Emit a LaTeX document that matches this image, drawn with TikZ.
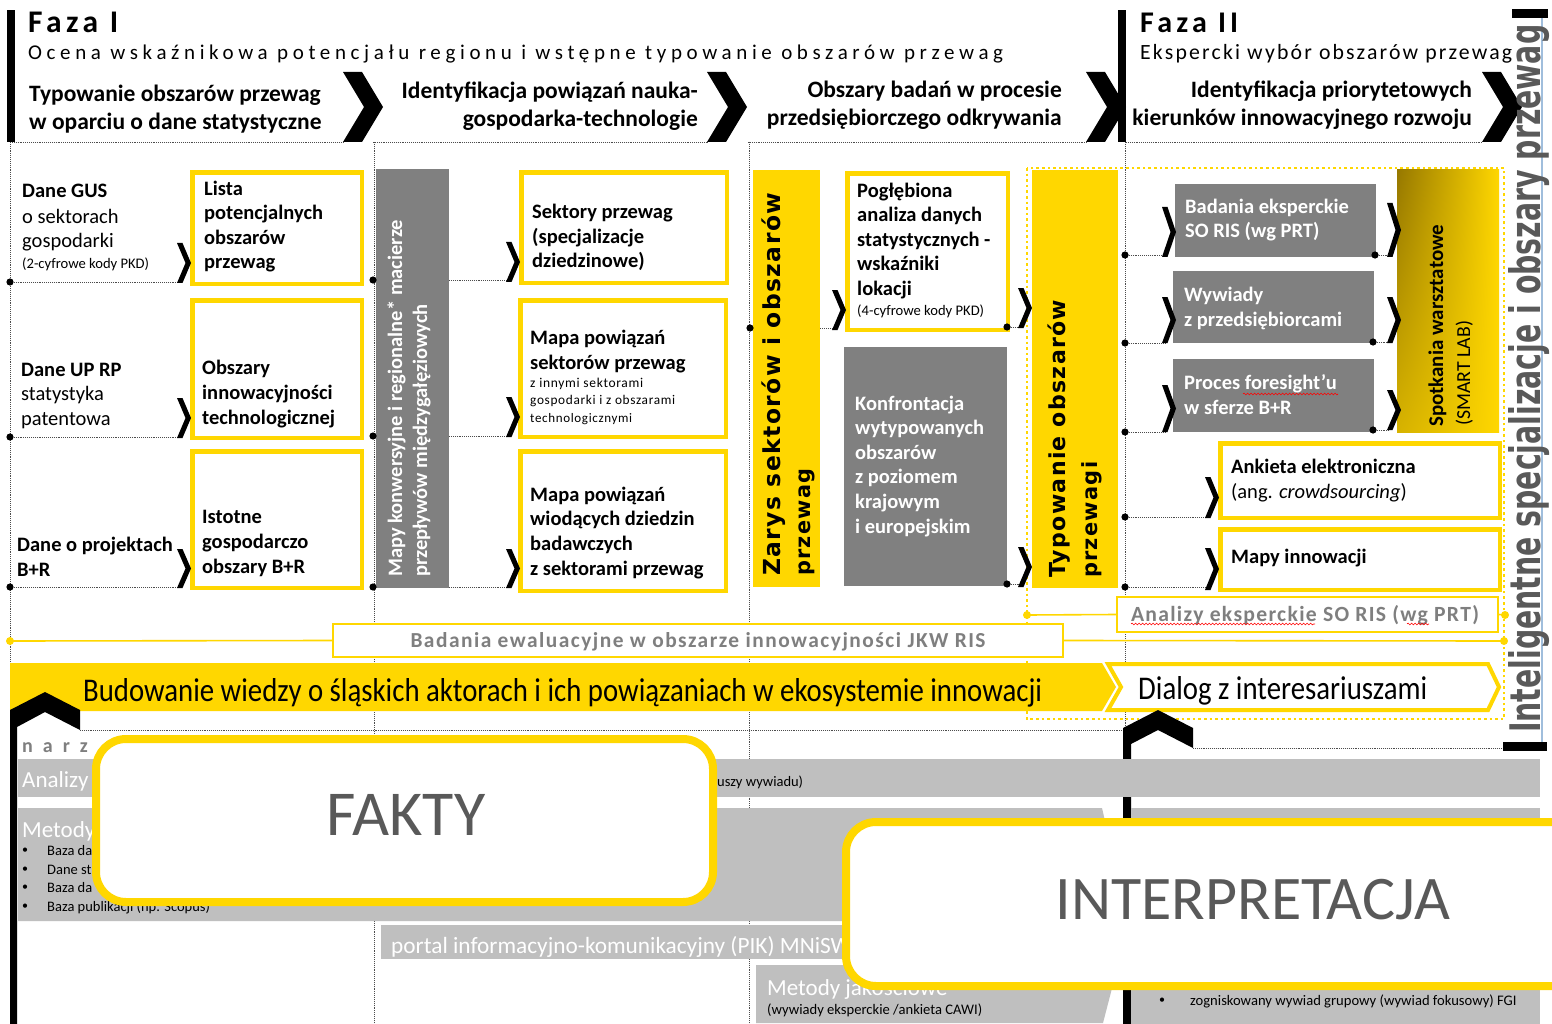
\documentclass[tikz,border=0pt]{standalone}
\usepackage{fontspec}
\setmainfont{Carlito}
\newfontfamily\dvs{DejaVu Sans}
\usepackage{graphicx}
\usetikzlibrary{decorations.pathmorphing,shadings}
\definecolor{ylw}{RGB}{255,215,0}
\definecolor{boxgray}{RGB}{128,128,128}
\definecolor{bandgray}{RGB}{191,191,191}
\definecolor{txtgray}{RGB}{127,127,127}
\definecolor{dgr}{RGB}{89,89,89}
\definecolor{goldA}{RGB}{150,120,0}
\definecolor{goldB}{RGB}{214,178,0}
\definecolor{linkblue}{RGB}{160,190,220}
\newcommand\LSp[1]{\addfontfeature{LetterSpace=#1}}
\newcommand\smchev[3]{\fill[black] (#1,#2) -- ({#1+5.5},#2) -- ({#1+14},{(#2+#3)/2}) -- ({#1+5.5},#3) -- (#1,#3) -- ({#1+8.5},{(#2+#3)/2}) -- cycle;}
\newcommand\bigchev[1]{\fill[black] (#1,72) -- ({#1+19},72) -- ({#1+40},107) -- ({#1+19},142) -- (#1,142) -- ({#1+21},107) -- cycle;}
\newcommand\ybx[5]{\node[ybox, minimum width={#4-#2-4.5}, minimum height={#5-#3-4.5}] (#1) at ({#2+2.25},{#3+2.25}) {};}
\newcommand\fbx[6]{\node[#6, minimum width={#4-#2}, minimum height={#5-#3}] (#1) at (#2,#3) {};}
\begin{document}
\begin{tikzpicture}[x=1pt,y=-1pt,
  dl/.style={densely dotted, line width=0.9pt, black!70},
  ydot/.style={ylw, line width=2.6pt, dash pattern=on 2.6pt off 3pt},
  ybox/.style={draw=ylw, line width=4.5pt, fill=white, inner sep=0, anchor=north west},
  gfill/.style={fill=boxgray, inner sep=0, anchor=north west},
  yfill/.style={fill=ylw, inner sep=0, anchor=north west},
  tb/.style={anchor=base west, align=left, inner sep=0, font=\fontsize{20.5}{24.6}\selectfont\bfseries},
  tr/.style={anchor=base west, align=left, inner sep=0, font=\fontsize{20.5}{24.6}\selectfont},
  ts/.style={anchor=base west, align=left, inner sep=0, font=\fontsize{14.6}{17.5}\selectfont},
  tsm/.style={anchor=base west, inner sep=0, font=\fontsize{14.5}{17}\selectfont},
  hd/.style={inner sep=0, font=\fontsize{23.5}{27.5}\selectfont\bfseries},
  rot/.style={rotate=90, anchor=base west, inner sep=0},
  squig/.style={red, line width=0.6pt, decorate, decoration={snake, amplitude=0.9pt, segment length=3.5pt}}
]
\useasboundingbox (0,0) rectangle (1552,1024);
\fill[white] (0,0) rectangle (1552,1024);

% ---------- grid of dotted lines ----------
\draw[dl] (10,142) -- (343,142);
\draw[dl] (373,142) -- (708,142);
\draw[dl] (748,142) -- (1088,142);
\draw[dl] (1126,142) -- (1483,142);
\draw[dl] (10,142) -- (10,663);
\draw[dl] (374,142) -- (374,1024);
\draw[dl] (749,142) -- (749,1024);
\draw[dl] (1125,142) -- (1125,730);

% row connectors
\coordinate (a1) at (10,282);  \coordinate (a1e) at (181,282);
\coordinate (a2) at (10,437);  \coordinate (a2e) at (180,437);
\coordinate (a3) at (10,587);  \coordinate (a3e) at (181,587);
\draw[dl] (a1) -- (a1e); \draw[dl] (a2) -- (a2e); \draw[dl] (a3) -- (a3e);
\coordinate (b1) at (373,280); \coordinate (b1e) at (510,280);
\coordinate (b2) at (373,436); \coordinate (b2e) at (510,436);
\coordinate (b3) at (373,587); \coordinate (b3e) at (510,587);
\draw[dl] (b1) -- (b1e); \draw[dl] (b2) -- (b2e); \draw[dl] (b3) -- (b3e);
\coordinate (c1) at (750,328); \coordinate (c1e) at (836,328);
\draw[dl] (c1) -- (c1e);
\coordinate (c2) at (1007,327); \coordinate (c2e) at (1021,327);
\coordinate (c3) at (1007,584); \coordinate (c3e) at (1021,584);
\draw[dl] (c2) -- (c2e); \draw[dl] (c3) -- (c3e);
\coordinate (d1) at (1125,255); \coordinate (d1e) at (1165,255);
\coordinate (d2) at (1125,343); \coordinate (d2e) at (1165,343);
\coordinate (d3) at (1125,432); \coordinate (d3e) at (1165,432);
\coordinate (d4) at (1125,517); \coordinate (d4e) at (1209,517);
\coordinate (d5) at (1125,587); \coordinate (d5e) at (1209,587);
\foreach \i in {1,...,5} {\draw[dl] (d\i) -- (d\i e);}
\coordinate (e1) at (1375,255); \coordinate (e1e) at (1389,255);
\coordinate (e2) at (1373,342); \coordinate (e2e) at (1389,342);
\coordinate (e3) at (1373,430); \coordinate (e3e) at (1389,430);
\foreach \i in {1,2,3} {\draw[dl] (e\i) -- (e\i e);}

% yellow dotted frame of phase II
\draw[ydot] (1027,168) rectangle (1504,719);

% ---------- boxes ----------
\ybx{lista}{188}{168}{362}{284}
\ybx{obsz}{188}{296}{362}{438}
\ybx{istot}{188}{447}{362}{588}
\fbx{mapy}{376}{169}{449}{588}{gfill}
\ybx{sekt}{517}{168}{727}{283}
\ybx{mapa1}{516}{296}{726}{437}
\ybx{mapa2}{516}{447}{726}{591}
\fbx{zarys}{753}{170}{820}{587}{yfill}
\ybx{poglb}{843}{169}{1008}{330}
\fbx{konfr}{844}{347}{1007}{586}{gfill}
\fbx{typow}{1032}{170}{1118}{588}{yfill}
\fbx{badan}{1175}{184}{1376}{257}{gfill}
\fbx{wywia}{1173}{271}{1374}{343}{gfill}
\fbx{fores}{1173}{359}{1374}{432}{gfill}
\shade[upper left=goldA, upper right=ylw, lower left=goldB, lower right=ylw] (1397,170) rectangle (1499,432);
\node[inner sep=0, minimum width=102, minimum height=262, anchor=north west] (smart) at (1397,170) {};
\ybx{ankie}{1216}{439}{1500}{518}
\ybx{mapin}{1216}{525}{1500}{590}

% ---------- dots ----------
\foreach \p in {a1,a2,a3,b1,b2,b3,c1,c2,c3,d1,d2,d3,d4,d5,e1,e2,e3} {\fill[black] (\p) circle (3.6);}

% ---------- chevrons ----------
\smchev{177}{243}{283}
\smchev{177}{398}{438}
\smchev{177}{549}{588}
\smchev{506}{242}{282}
\smchev{506}{397}{437}
\smchev{506}{549}{588}
\smchev{832}{290}{330}
\smchev{1018}{288}{328}
\smchev{1018}{547}{587}
\smchev{1162}{207}{257}
\smchev{1162}{297}{343}
\smchev{1162}{385}{432}
\smchev{1387}{203}{257}
\smchev{1387}{297}{343}
\smchev{1387}{390}{430}
\smchev{1205}{477}{518}
\smchev{1205}{548}{590}

% ---------- header ----------
\fill[black] (7,10) rectangle (15,142);
\fill[black] (1118,10) rectangle (1126,142);
\node[anchor=base west, inner sep=0] (f1) at (28,33) {\resizebox{90pt}{!}{\fontsize{28}{30}\selectfont\bfseries\LSp{14}Faza I}};
\node[anchor=base west, inner sep=0] (f1s) at (28,60) {\resizebox{975pt}{!}{\fontsize{18}{20}\selectfont\LSp{22}Ocena wskaźnikowa potencjału regionu i wstępne typowanie obszarów przewag}};
\node[anchor=base west, inner sep=0] (f2) at (1140,33) {\resizebox{98pt}{!}{\fontsize{28}{30}\selectfont\bfseries\LSp{14}Faza II}};
\node[anchor=base west, inner sep=0] (f2s) at (1140,60) {\resizebox{372pt}{!}{\fontsize{18}{20}\selectfont\LSp{10}Ekspercki wybór obszarów przewag}};
\node[hd, anchor=base west, align=left] (h1) at (29,129.5) {Typowanie obszarów przewag\\w oparciu o dane statystyczne};
\node[hd, anchor=base east, align=right] (h2) at (698,126.5) {Identyfikacja powiązań nauka-\\gospodarka-technologie};
\node[hd, anchor=base east, align=right] (h3) at (1062,125.5) {Obszary badań w procesie\\przedsiębiorczego odkrywania};
\node[hd, anchor=base east, align=right] (h4) at (1472,125.5) {Identyfikacja priorytetowych\\kierunków innowacyjnego rozwoju};
\bigchev{343}
\bigchev{707}
\bigchev{1086}
\bigchev{1482}

% ---------- column 1 texts ----------
\node[tb] at (22,198) {Dane GUS};
\node[tr] at (22,248) {o sektorach\\gospodarki};
\node[ts] at (22,269) {(2-cyfrowe kody PKD)};
\node[tb] at (204,269) {Lista\\potencjalnych\\obszarów\\przewag};
\node[tb] at (21,376) {Dane UP RP};
\node[tr] at (21,425) {statystyka\\patentowa};
\node[tb] at (202,424) {Obszary\\innowacyjności\\technologicznej};
\node[tb] at (17,576) {Dane o projektach\\B+R};
\node[tb] at (202,573) {Istotne\\gospodarczo\\obszary B+R};

% ---------- column 2 texts ----------
\node[rot, text=white, font=\fontsize{20.5}{24}\selectfont\bfseries] at (402,577) {Mapy konwersyjne i regionalne* macierze};
\node[rot, text=white, font=\fontsize{20.5}{24}\selectfont\bfseries] at (427,577) {przepływów międzygałęziowych};
\node[tb] at (532,268) {Sektory przewag\\(specjalizacje\\dziedzinowe)};
\node[tb] at (530,369) {Mapa powiązań\\sektorów przewag};
\node[tsm] at (530,387) {\resizebox{113pt}{!}{\LSp{5}z innymi sektorami}};
\node[tsm] at (530,404.5) {\resizebox{145pt}{!}{\LSp{5}gospodarki i z obszarami}};
\node[tsm] at (530,422) {\resizebox{102pt}{!}{\LSp{5}technologicznymi}};
\node[tb] at (530,575) {Mapa powiązań\\wiodących dziedzin\\badawczych\\z sektorami przewag};

% ---------- column 3 texts ----------
\node[rot] at (780,576) {\resizebox{383pt}{!}{\fontsize{22}{26}\selectfont\dvs\bfseries\LSp{6}Zarys sektorów i obszarów}};
\node[rot] at (810,576) {\resizebox{107pt}{!}{\fontsize{22}{26}\selectfont\dvs\bfseries\LSp{6}przewag}};
\node[tb] at (857,295.5) {Pogłębiona\\analiza danych\\statystycznych -\\wskaźniki\\lokacji};
\node[ts] at (857,316) {(4-cyfrowe kody PKD)};
\node[tb, text=white] at (855,533) {Konfrontacja\\wytypowanych\\obszarów\\z poziomem\\krajowym\\i europejskim};
\node[rot] at (1065,578) {\resizebox{278pt}{!}{\fontsize{22}{26}\selectfont\dvs\bfseries\LSp{6}Typowanie obszarów}};
\node[rot] at (1097,578) {\resizebox{116pt}{!}{\fontsize{22}{26}\selectfont\dvs\bfseries\LSp{6}przewagi}};

% ---------- column 4 texts ----------
\node[tb, text=white] at (1185,238) {Badania eksperckie\\SO RIS (wg PRT)};
\node[tb, text=white] at (1184,326) {Wywiady\\z przedsiębiorcami};
\node[tb, text=white] at (1184,414) {Proces foresight'u\\w sferze B+R};
\draw[squig] (1243,394) -- (1338,394);
\node[rot] at (1443,427) {\resizebox{202pt}{!}{\fontsize{19}{22}\selectfont\bfseries Spotkania warsztatowe}};
\node[rot] at (1470,426) {\resizebox{105pt}{!}{\fontsize{19}{22}\selectfont (SMART LAB)}};
\node[tb] at (1231,473) {Ankieta elektroniczna};
\node[tr] at (1231,498) {(ang. \textit{crowdsourcing})};
\node[tb] at (1231,563) {Mapy innowacji};

% ---------- middle lines ----------
\node[draw=ylw, line width=1.6pt, fill=white, inner sep=0, minimum width=381, minimum height=35] (anal) at (1307.5,614.5) {};
\node[inner sep=0, anchor=base, text=txtgray] (analT) at (1305,621) {\resizebox{348pt}{!}{\fontsize{20}{22}\selectfont\bfseries\LSp{6}Analizy eksperckie SO RIS (wg PRT)}};
\draw[squig] (1131,624) -- (1315,624);
\draw[squig] (1407,624) -- (1429,624);
\coordinate (yl1) at (1027,615); \coordinate (yr1) at (1505,615);
\draw[ylw, line width=1.6pt] (yl1) -- (anal.west);
\draw[ylw, line width=1.6pt] (anal.east) -- (yr1);
\fill[ylw] (yl1) circle (4); \fill[ylw] (yr1) circle (4);
\node[draw=ylw, line width=1.6pt, fill=white, inner sep=0, minimum width=730, minimum height=33] (ewal) at (698,640.5) {};
\node[inner sep=0, anchor=base, text=txtgray] (ewalT) at (698,647) {\resizebox{575pt}{!}{\fontsize{20}{22}\selectfont\bfseries\LSp{7}Badania ewaluacyjne w obszarze innowacyjności JKW RIS}};
\coordinate (yl2) at (10,641); \coordinate (yr2) at (1504,641);
\draw[ylw, line width=1.6pt] (yl2) -- (ewal.west);
\draw[ylw, line width=1.6pt] (ewal.east) -- (yr2);
\fill[ylw] (yl2) circle (4); \fill[ylw] (yr2) circle (4);

% ---------- bands ----------
\fill[ylw] (10,663) -- (1102,663) -- (1116,687) -- (1102,711) -- (10,711) -- cycle;
\node[anchor=base west, inner sep=0] (budT) at (83,701) {\resizebox{959pt}{23pt}{\fontsize{32}{36}\selectfont Budowanie wiedzy o śląskich aktorach i ich powiązaniach w ekosystemie innowacji}};
\draw[ylw, line width=4pt, fill=white] (1108,664) -- (1488,664) -- (1499,687) -- (1488,710) -- (1108,710) -- (1121,687) -- cycle;
\node[anchor=base west, inner sep=0] (dialT) at (1138,699) {\resizebox{289pt}{23pt}{\fontsize{32}{36}\selectfont Dialog z interesariuszami}};

% black up chevrons and bars
\fill[black] (10,710) -- (45,692) -- (80,710) -- (80,730) -- (45,712) -- (17,727) -- (17,1024) -- (10,1024) -- cycle;
\fill[black] (1123,728) -- (1158,710) -- (1193,728) -- (1193,748) -- (1158,730) -- (1131,744) -- (1131,1024) -- (1123,1024) -- cycle;
\coordinate (bl1) at (80,730); \coordinate (bl2) at (1123,730);
\draw[dl] (bl1) -- (bl2);
\coordinate (br1) at (1193,748); \coordinate (br2) at (1503,748);
\draw[dl] (br1) -- (br2);
\fill[black] (1503,742) rectangle (1547,751);

% ---------- bottom tool bands ----------
\node[anchor=base west, inner sep=0, text=txtgray] at (22,752) {\fontsize{20}{22}\selectfont\bfseries\LSp{50}narz};
\fill[bandgray] (18,759) rectangle (1540,797);
\node[anchor=base west, inner sep=0, text=white] at (22,787) {\fontsize{23}{26}\selectfont Analizy};
\node[anchor=base west, inner sep=0] at (717,786) {\fontsize{14.5}{16}\selectfont uszy wywiadu)};
\fill[bandgray] (18,808) -- (1102,808) -- (1114,860) -- (1102,921) -- (18,921) -- cycle;
\fill[bandgray] (1131,808) rectangle (1540,1024);
\node[anchor=base west, inner sep=0, text=white] at (22,837) {\fontsize{23}{26}\selectfont Metody};
\foreach \yy/\tt in {851/Baza da, 870/Dane st, 888/Baza da, 907/Baza publikacji (np. Scopus)} {
  \node[anchor=center, inner sep=0] at (25,\yy) {\fontsize{12}{14}\selectfont\textbullet};
  \node[anchor=base west, inner sep=0] at (47,{\yy+4}) {\fontsize{14.5}{16}\selectfont \tt};
}
\fill[bandgray] (381,925) rectangle (1100,959);
\node[anchor=base west, inner sep=0, text=white] at (391,953) {\fontsize{23.3}{26}\selectfont portal informacyjno-komunikacyjny (PIK) MNiSW};
\fill[bandgray] (756,965) -- (1118,965) -- (1103,1023) -- (756,1023) -- cycle;
\node[anchor=base west, inner sep=0, text=white] at (767,995) {\fontsize{23}{26}\selectfont Metody jakościowe};
\node[anchor=base west, inner sep=0] at (767,1014) {\fontsize{14.6}{16}\selectfont (wywiady eksperckie /ankieta CAWI)};
\node[anchor=center, inner sep=0] at (1162,1001) {\fontsize{12}{14}\selectfont\textbullet};
\node[anchor=base west, inner sep=0] at (1190,1005) {\fontsize{14.6}{16}\selectfont zogniskowany wywiad grupowy (wywiad fokusowy) FGI};

% ---------- FAKTY / INTERPRETACJA ----------
\node[draw=ylw, line width=8pt, rounded corners=30pt, fill=white, inner sep=0, minimum width=617, minimum height=163] (fakty) at (404.5,820.5) {};
\node[anchor=base, inner sep=0, text=dgr] (faktyT) at (406,835) {\fontsize{64}{70}\selectfont FAKTY};
\node[draw=ylw, line width=8pt, rounded corners=30pt, fill=white, inner sep=0, minimum width=760, minimum height=164] (interp) at (1226,904) {};
\node[anchor=base, inner sep=0, text=dgr] (interpT) at (1253,919) {\fontsize{62}{70}\selectfont INTERPRETACJA};

% ---------- right vertical caption ----------
\draw[linkblue, line width=1.5pt] (1542,18) -- (1542,742);
\fill[black] (1512,9) rectangle (1548,18);
\node[rot, text=dgr] (intel) at (1540,733) {\resizebox{708pt}{32pt}{\dvs\bfseries Inteligentne specjalizacje i obszary przewag}};
\end{tikzpicture}
\end{document}
